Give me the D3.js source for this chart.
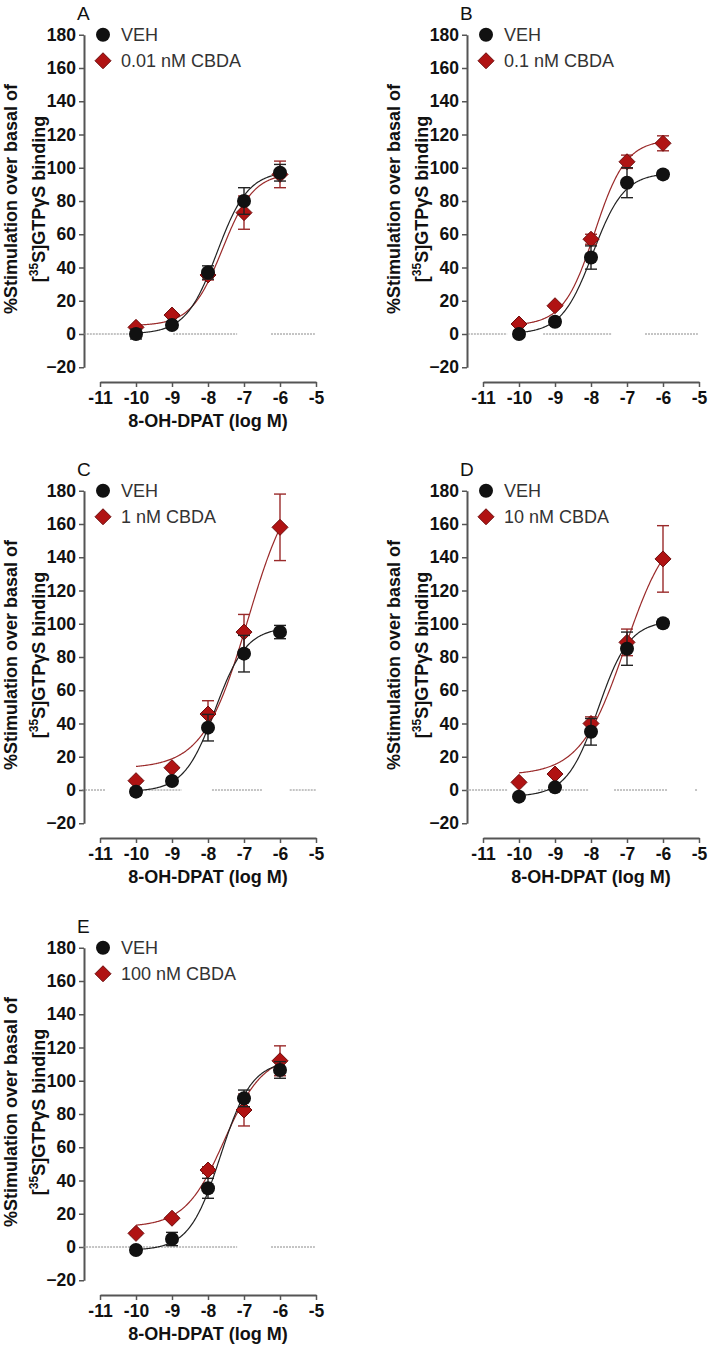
<!DOCTYPE html>
<html>
<head>
<meta charset="utf-8">
<script src="https://cdn.jsdelivr.net/npm/d3@7"></script>
<style>
  html, body { margin: 0; padding: 0; background: #fff; }
  svg { display: block; }
  text { font-family: Arial, "Liberation Sans", sans-serif; }
</style>
</head>
<body>
<svg id="chart" width="709" height="1349"></svg>
<script>
// ---------------- data ----------------
const panelLabels = ["A", "B", "C", "D", "E"];
const cbdaLabels = ["0.01 nM CBDA", "0.1 nM CBDA", "1 nM CBDA", "10 nM CBDA", "100 nM CBDA"];
const vehLabel = "VEH";
const doses = [-10, -9, -8, -7, -6];
const xTicks = [-11, -10, -9, -8, -7, -6, -5];
const yTicks = [-20, 0, 20, 40, 60, 80, 100, 120, 140, 160, 180];
const xTitle = "8-OH-DPAT (log M)";
const showXTitle = [true, false, true, true, true];

const vehMeans = [
  [0, 5.4, 37, 80, 97],
  [0, 7.4, 46, 91, 96],
  [-1, 5.4, 37.5, 82, 95],
  [-4, 1.6, 35, 85, 100.3],
  [-1.8, 4.8, 35.3, 89.4, 106.5]
];
const vehSem = [
  [3, 2, 4, 8, 5],
  [2, 2, 7, 9, 2],
  [2, 2, 8, 11, 4],
  [1, 1, 8, 10, 2],
  [2, 4, 6, 5, 5]
];
const cbdaMeans = [
  [4, 11.4, 35.5, 73, 96],
  [6, 17, 57, 103.6, 114.7],
  [5.6, 13.4, 45.7, 95, 158],
  [4.6, 9.6, 40, 88.8, 139],
  [8.2, 17.3, 46.3, 82.4, 112]
];
const cbdaSem = [
  [1, 1, 3, 10, 8],
  [1, 1, 3, 4, 4.5],
  [1, 1, 8, 10.6, 20],
  [1, 1, 4, 8, 20],
  [1, 1, 2, 9.6, 9]
];
// fitted sigmoid parameters: [bottom, top, logEC50, hill slope]
const vehFit = [
  [0, 98, -7.75, 1],
  [0, 97, -7.95, 1],
  [-1, 98, -7.8, 1],
  [-4, 102, -7.8, 1],
  [-2, 112, -7.65, 1]
];
const cbdaFit = [
  [5, 97, -7.6, 1],
  [5, 117, -7.9, 1],
  [13, 192, -6.89, 0.7],
  [9, 163, -7.05, 0.7],
  [12, 116, -7.55, 0.8]
];
// dashed baseline (y = 0) segments, in log M units
const zeroSegments = [
  [[-11.45, -9.9], [-8.97, -7.19], [-6.25, -5.03]],
  [[-11.42, -10.33], [-9.33, -7.42], [-6.5, -5.03]],
  [[-11.5, -10.86], [-9.74, -8.73], [-7.89, -6.49], [-5.73, -5.0]],
  [[-11.47, -10.31], [-9.47, -8.08], [-7.36, -5.86], [-5.11, -5.03]],
  [[-11.47, -7.19], [-6.25, -5.03]]
];

// ---------------- layout ----------------
const svg = d3.select("#chart");
const colAxisX = [84, 467];
const rowZeroY = [334, 790, 1247];
const pxPerUnit = 1.6625;

const RED = "#b01313";
const RED_DARK = "#6e0d0d";
const RED_LINE = "#9a2a2a";
const BLACK = "#111";

function sigmoid(p, x) {
  const [b, t, e, h] = p;
  return b + (t - b) / (1 + Math.pow(10, h * (e - x)));
}

panelLabels.forEach((lab, i) => {
  const col = i % 2, row = Math.floor(i / 2);
  const ax = colAxisX[col];
  const y0 = rowZeroY[row];
  const y = d3.scaleLinear().domain([-20, 180]).range([y0 + 20 * pxPerUnit, y0 - 180 * pxPerUnit]);
  const x = d3.scaleLinear().domain([-11, -5]).range([ax + 16, ax + 232]);
  const g = svg.append("g");

  // y axis
  const yAxis = d3.axisLeft(y).tickValues(yTicks).tickSize(5).tickPadding(3).tickSizeOuter(0);
  const yg = g.append("g").attr("transform", `translate(${ax},0)`).call(yAxis);
  yg.select(".domain").attr("stroke", "#555").attr("stroke-width", 2);
  yg.selectAll(".tick line").attr("stroke", "#555").attr("stroke-width", 1.5);
  yg.selectAll(".tick text").attr("font-size", 17.5).attr("font-weight", "bold").attr("fill", "#111")
    .attr("font-family", "Arial, 'Liberation Sans', sans-serif");

  // x axis
  const xAxis = d3.axisBottom(x).tickValues(xTicks).tickSize(5).tickPadding(5).tickSizeOuter(0)
    .tickFormat(d3.format("d"));
  const xg = g.append("g").attr("transform", `translate(0,${y0 + 48})`).call(xAxis);
  xg.select(".domain").attr("stroke", "#555").attr("stroke-width", 2);
  xg.selectAll(".tick line").attr("stroke", "#555").attr("stroke-width", 1.5);
  xg.selectAll(".tick text").attr("font-size", 17.5).attr("font-weight", "bold").attr("fill", "#111")
    .attr("font-family", "Arial, 'Liberation Sans', sans-serif")
    .text(d => d3.format("d")(d).replace("\u2212", "-"));

  if (showXTitle[i]) {
    g.append("text").attr("x", (x(-11) + x(-5)) / 2).attr("y", y0 + 93)
      .attr("text-anchor", "middle").attr("font-size", 18).attr("font-weight", "bold").attr("fill", "#111")
      .text(xTitle);
  }

  // y title
  const yc = y(80) - 2;
  g.append("text").attr("transform", `translate(${ax - 67},${yc}) rotate(-90)`)
    .attr("text-anchor", "middle").attr("font-size", 18).attr("font-weight", "bold").attr("fill", "#111")
    .text("%Stimulation over basal of");
  const t2 = g.append("text").attr("transform", `translate(${ax - 39},${yc}) rotate(-90)`)
    .attr("text-anchor", "middle").attr("font-size", 18).attr("font-weight", "bold").attr("fill", "#111");
  t2.append("tspan").text("[");
  t2.append("tspan").attr("font-size", 12).attr("dy", -7).text("35");
  t2.append("tspan").attr("dy", 7).text("S]GTP\u03B3S binding");

  // panel label
  g.append("text").attr("x", ax - 7).attr("y", y(180) - 15).attr("font-size", 19).attr("fill", "#111").text(lab);

  // zero dashed line
  zeroSegments[i].forEach(s => {
    g.append("line").attr("x1", x(s[0])).attr("x2", x(s[1])).attr("y1", y(0)).attr("y2", y(0))
      .attr("stroke", "#8a8a8a").attr("stroke-width", 1).attr("stroke-dasharray", "2,1");
  });

  // curves
  const xs = d3.range(-10, -5.99, 0.02);
  const line = d3.line().x(d => x(d[0])).y(d => y(d[1]));
  g.append("path").attr("d", line(xs.map(v => [v, sigmoid(cbdaFit[i], v)])))
    .attr("fill", "none").attr("stroke", RED_LINE).attr("stroke-width", 1.2);
  g.append("path").attr("d", line(xs.map(v => [v, sigmoid(vehFit[i], v)])))
    .attr("fill", "none").attr("stroke", "#222").attr("stroke-width", 1.2);

  function errorBars(means, sems, color) {
    doses.forEach((d, k) => {
      const m = means[k], s = sems[k];
      const cx = x(d);
      g.append("line").attr("x1", cx).attr("x2", cx).attr("y1", y(m - s)).attr("y2", y(m + s))
        .attr("stroke", color).attr("stroke-width", 1.4);
      [m - s, m + s].forEach(v => {
        g.append("line").attr("x1", cx - 6).attr("x2", cx + 6).attr("y1", y(v)).attr("y2", y(v))
          .attr("stroke", color).attr("stroke-width", 1.4);
      });
    });
  }
  const diamond = (cx, cy, r) => `M${cx},${cy - r}L${cx + r},${cy}L${cx},${cy + r}L${cx - r},${cy}Z`;

  // CBDA series
  errorBars(cbdaMeans[i], cbdaSem[i], RED_LINE);
  doses.forEach((d, k) => {
    g.append("path").attr("d", diamond(x(d), y(cbdaMeans[i][k]), 8))
      .attr("fill", RED).attr("stroke", RED_DARK).attr("stroke-width", 1);
  });
  // VEH series
  errorBars(vehMeans[i], vehSem[i], "#222");
  doses.forEach((d, k) => {
    g.append("circle").attr("cx", x(d)).attr("cy", y(vehMeans[i][k])).attr("r", 7).attr("fill", BLACK);
  });

  // legend
  const ly = y(180);
  g.append("circle").attr("cx", ax + 19).attr("cy", ly).attr("r", 7).attr("fill", BLACK);
  g.append("text").attr("x", ax + 37).attr("y", ly).attr("dy", "0.35em").attr("font-size", 18).attr("fill", "#333").text(vehLabel);
  g.append("path").attr("d", diamond(ax + 19, ly + 26, 8)).attr("fill", RED).attr("stroke", RED_DARK).attr("stroke-width", 1);
  g.append("text").attr("x", ax + 37).attr("y", ly + 26).attr("dy", "0.35em").attr("font-size", 18).attr("fill", "#333").text(cbdaLabels[i]);
});
</script>
</body>
</html>
